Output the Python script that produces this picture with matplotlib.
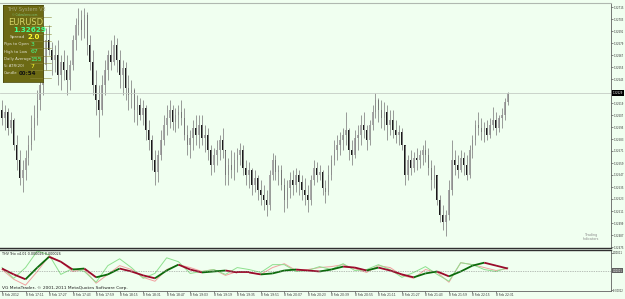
import numpy as np
import matplotlib
matplotlib.use("Agg")
import matplotlib.pyplot as plt
import matplotlib.transforms as mtransforms
from matplotlib.collections import LineCollection

# EURUSD bars (one bar per 2 minutes), prices in points above 1.32000
first_open = 612
bar_high = [
    622, 617, 614, 610, 604, 587, 572, 562, 572, 587,
    607, 617, 632, 647, 667, 694, 697, 680, 677, 682,
    667, 672, 667, 662, 687, 704, 714, 712, 714, 710,
    687, 672, 652, 637, 647, 662, 672, 682, 687, 684,
    672, 662, 660, 647, 642, 634, 627, 624, 622, 617,
    602, 587, 572, 572, 592, 607, 617, 622, 617, 614,
    617, 622, 614, 597, 592, 602, 607, 607, 607, 597,
    594, 577, 574, 582, 587, 594, 572, 564, 572, 570,
    574, 579, 577, 562, 560, 554, 552, 547, 542, 537,
    532, 552, 569, 567, 557, 557, 544, 542, 550, 552,
    554, 552, 547, 544, 537, 547, 562, 560, 557, 552,
    542, 557, 567, 582, 587, 590, 594, 610, 594, 582,
    592, 597, 607, 610, 597, 602, 617, 629, 624, 622,
    620, 617, 612, 612, 602, 597, 594, 577, 567, 572,
    570, 574, 572, 577, 582, 574, 562, 557, 547, 527,
    517, 512, 542, 582, 572, 567, 572, 570, 567, 577,
    587, 602, 610, 604, 600, 602, 604, 615, 610, 607,
    614, 624, 630,
]
bar_low = [
    597, 592, 587, 589, 572, 552, 537, 530, 542, 557,
    572, 582, 597, 612, 627, 652, 667, 647, 650, 637,
    632, 642, 627, 632, 652, 672, 687, 682, 684, 667,
    652, 627, 607, 585, 607, 627, 642, 652, 657, 650,
    634, 627, 622, 612, 614, 600, 597, 602, 597, 582,
    572, 552, 537, 540, 562, 577, 587, 594, 592, 590,
    594, 597, 582, 567, 564, 572, 577, 574, 577, 570,
    562, 547, 550, 557, 562, 564, 537, 537, 544, 542,
    550, 557, 547, 537, 534, 527, 530, 522, 517, 512,
    506, 512, 542, 542, 537, 532, 510, 514, 524, 527,
    530, 527, 522, 517, 510, 517, 537, 540, 542, 527,
    519, 527, 542, 557, 562, 567, 572, 577, 562, 557,
    564, 572, 577, 584, 572, 577, 592, 604, 600, 594,
    592, 582, 587, 584, 579, 577, 572, 537, 542, 547,
    550, 552, 554, 557, 560, 547, 532, 534, 517, 500,
    492, 486, 502, 527, 547, 544, 550, 547, 542, 544,
    564, 577, 587, 582, 580, 582, 584, 592, 587, 590,
    594, 602, 617,
]
bar_close = [
    604, 610, 594, 602, 577, 562, 544, 552, 564, 577,
    594, 604, 622, 637, 657, 682, 672, 662, 667, 647,
    660, 652, 642, 657, 682, 697, 702, 692, 707, 677,
    660, 637, 622, 612, 637, 652, 667, 660, 677, 662,
    647, 654, 634, 627, 632, 612, 617, 607, 614, 592,
    582, 562, 550, 567, 582, 597, 604, 612, 600, 607,
    610, 604, 587, 577, 584, 594, 587, 597, 584, 587,
    572, 557, 567, 572, 582, 572, 547, 557, 552, 562,
    567, 572, 554, 547, 552, 537, 544, 532, 527, 522,
    517, 547, 562, 550, 552, 537, 522, 534, 542, 537,
    547, 540, 532, 527, 522, 542, 554, 547, 550, 534,
    530, 547, 562, 572, 577, 582, 587, 592, 572, 567,
    584, 587, 597, 592, 582, 597, 610, 622, 612, 604,
    610, 597, 602, 592, 587, 590, 577, 547, 562, 554,
    564, 562, 567, 572, 567, 554, 542, 547, 522, 507,
    500, 507, 532, 562, 557, 552, 564, 557, 547, 572,
    582, 597, 594, 590, 594, 587, 597, 602, 594, 604,
    607, 620, 629,
]
bid_price = 1.32629

# THV Trix v4.01, one reading every 4 bars, in millionths
trix_step = 4
trix_main = [12, -24, -54, 18, 84, 54, 6, 12, -42, -24,
             12, -6, -30, -48, 0, 36, 6, -12, -6, 0,
             -12, -12, -24, -18, 0, 6, 0, -6, 6, 24,
             18, 0, 18, 0, -24, -42, -18, -6, -36, -6,
             30, 48, 30, 12]
trix_fast = [18, -48, 18, 120, 96, -24, 12, -6, -72, 30,
             72, 18, -48, -18, 78, 54, -18, -6, 6, -24,
             18, 6, -12, 36, 36, -6, 0, 24, 6, 42,
             0, 6, 36, 6, -42, -12, 24, -24, -66, 48,
             36, 6, -6, 18]
trix_signal = [6, -54, -90, -6, 90, 54, -6, 6, -78, -24,
               30, 6, -42, -66, 6, 36, 18, -6, 6, -30,
               -6, -12, -24, 18, 42, 0, 6, 18, 24, 36,
               12, -12, 30, 18, -30, -48, 6, -12, -72, 48,
               36, 18, 0, 12]

# time axis, one label every 8 bars
label_step = 8
time_labels = [
    "8 Feb 2012", "8 Feb 17:11", "8 Feb 17:27", "8 Feb 17:43", "8 Feb 17:59",
    "8 Feb 18:15", "8 Feb 18:31", "8 Feb 18:47", "8 Feb 19:03", "8 Feb 19:19",
    "8 Feb 19:35", "8 Feb 19:51", "8 Feb 20:07", "8 Feb 20:23", "8 Feb 20:39",
    "8 Feb 20:55", "8 Feb 21:11", "8 Feb 21:27", "8 Feb 21:43", "8 Feb 21:59",
    "8 Feb 22:15", "8 Feb 22:31",
]

# info box
panel_symbol = "EURUSD"
panel_spread = "2.0"
panel_rows = ["Pips to Open", "High to Low", "Daily Average", "5i ATR(20)"]
panel_values = ["3", "67", "155", "7"]
panel_candle = "00:54"

BG = "#f0fff0"
W, H = 625, 299

fig = plt.figure(figsize=(W / 100, H / 100), dpi=100)
fig.patch.set_facecolor(BG)
ax = fig.add_axes([0, 51 / H, 611 / W, 245 / H])
ax_ind = fig.add_axes([0, 8 / H, 611 / W, 41 / H])
for a in (ax, ax_ind):
    a.set_facecolor(BG)
    a.set_xlim(-0.68, 207.1)
    a.spines["left"].set_visible(False)
    a.spines["right"].set_color("#606060")
    a.spines["right"].set_linewidth(0.6)

# candles
highs = 1.32 + np.array(bar_high) / 1e5
lows = 1.32 + np.array(bar_low) / 1e5
closes = 1.32 + np.array(bar_close) / 1e5
opens = np.concatenate([[1.32 + first_open / 1e5], closes[:-1]])
highs = np.maximum(highs, np.maximum(opens, closes))
lows = np.minimum(lows, np.minimum(opens, closes))
x = np.arange(len(closes))
up = closes >= opens
body = np.maximum(np.abs(closes - opens), 0.000015)
ax.vlines(x, lows, highs, color="#8a8a8a", lw=0.6)
ax.bar(x[up], body[up], bottom=opens[up], width=0.5, color="#a8a8a8", lw=0)
ax.bar(x[~up], body[~up], bottom=closes[~up], width=0.5, color="#1a1a1a", lw=0)

ax.set_ylim(1.32474, 1.32719)
ax.axhline(bid_price, color="#c4ccc4", lw=0.6)
pticks = [1.32 + p / 1e5 for p in range(715, 470, -12) if abs(p - 629) > 6]
ax.yaxis.tick_right()
ax.set_yticks(pticks)
ax.set_yticklabels(["%.5f" % p for p in pticks])
ax.tick_params(axis="y", length=1.2, width=0.4, pad=0.4, labelsize=1.8, colors="#303030")
ax.set_xticks([])
ax.spines["top"].set_color("#b0b8b0")
ax.spines["bottom"].set_color("#303030")
ax.spines["bottom"].set_linewidth(1.0)
trans = mtransforms.blended_transform_factory(ax.transAxes, ax.transData)
ax.text(1.003, bid_price, "%.5f" % bid_price, transform=trans, fontsize=1.8,
        color="white", va="center", ha="left",
        bbox=dict(boxstyle="square,pad=0.3", fc="black", ec="none"))
fig.text(591 / W, 1 - 237 / H, "Trading\nIndicators", fontsize=2.4, color="#8a8a8a",
         ha="center", va="center", linespacing=0.9)

# indicator
tx = np.arange(len(trix_main)) * trix_step
ax_ind.plot(tx, trix_signal, color="#f0a0a0", lw=0.7)
ax_ind.plot(tx, trix_fast, color="#8ee08e", lw=0.7)
pts = np.column_stack([tx, trix_main])
segs = np.stack([pts[:-1], pts[1:]], axis=1)
cols = ["#0b6b0b" if b > a else "#9a0a2a" for a, b in zip(trix_main[:-1], trix_main[1:])]
ax_ind.add_collection(LineCollection(segs, colors=cols, linewidths=1.3))
ax_ind.axhline(0, color="#808080", lw=0.5, ls=(0, (1, 1.5)))
ax_ind.set_ylim(-126, 126)
ax_ind.yaxis.tick_right()
ax_ind.set_yticks([110, -120])
ax_ind.set_yticklabels(["0.00011", "-0.00012"])
ax_ind.tick_params(axis="y", length=1.2, width=0.4, pad=0.4, labelsize=1.8, colors="#303030")
ax_ind.set_xticks(np.arange(len(time_labels)) * label_step)
ax_ind.set_xticklabels(time_labels, ha="left")
ax_ind.tick_params(axis="x", length=1.2, width=0.4, pad=0.6, labelsize=2.2, colors="#303030")
ax_ind.spines["top"].set_color("#303030")
ax_ind.spines["top"].set_linewidth(1.0)
ax_ind.spines["bottom"].set_color("#606060")
ax_ind.spines["bottom"].set_linewidth(0.6)
trans_i = mtransforms.blended_transform_factory(ax_ind.transAxes, ax_ind.transData)
ax_ind.text(1.003, 0, "0.00001", transform=trans_i, fontsize=1.8, color="white",
            va="center", ha="left",
            bbox=dict(boxstyle="square,pad=0.3", fc="#606060", ec="none"))
ax_ind.text(2 / 611, 0.9, "THV Trix v4.01 0.000026 0.000026", transform=ax_ind.transAxes,
            fontsize=2.4, color="#202020", va="center")
fig.text(2 / W, 1 - 288 / H, "VG MetaTrader, \u00a9 2001-2011 MetaQuotes Software Corp.",
         fontsize=3.2, color="#202020", va="center")

# info box, drawn in pixel coords of the box
ax_p = fig.add_axes([3 / W, 1 - 82 / H, 40 / W, 77 / H])
ax_p.set_facecolor("#6c6a14")
ax_p.set_xlim(3, 43)
ax_p.set_ylim(82, 5)
ax_p.set_xticks([])
ax_p.set_yticks([])
for s in ax_p.spines.values():
    s.set_color("#4e4c0c")
    s.set_linewidth(0.6)
for yy in [17, 26, 34, 41, 48, 56, 63, 70, 78]:
    ax_p.plot([30, 51], [yy, yy], color="#8c8a3a", lw=0.4, clip_on=False)
ax_p.text(7, 9.5, "THV System V3", fontsize=3.6, color="#a8a880", va="center", clip_on=False)
ax_p.text(12, 15, "\u00a9 Cobraforex.com", fontsize=2.0, color="#7cc87c", va="center")
ax_p.text(8, 22.5, panel_symbol, fontsize=6, color="#d4d468", va="center")
ax_p.text(13, 30, "%.5f" % bid_price, fontsize=5.2, color="#44ff8c", va="center",
          fontweight="bold")
ax_p.text(10, 37, "Spread", fontsize=3.2, color="#e0e0d0", va="center")
ax_p.text(27, 37, panel_spread, fontsize=5, color="#ffff30", va="center", fontweight="bold")
for i, (name, val) in enumerate(zip(panel_rows, panel_values)):
    yy = 44.5 + 7.3 * i
    ax_p.text(4, yy, name, fontsize=2.8, color="#e0e0d0", va="center")
    c = "#ffff30" if i == 3 else "#44ff8c"
    ax_p.text(30.5, yy, val, fontsize=4.4, color=c, va="center", clip_on=False)
ax_p.text(4, 73.5, "Candle", fontsize=2.8, color="#e0e0d0", va="center")
ax_p.text(19, 73.5, panel_candle, fontsize=4.0, color="#101010", va="center",
          fontweight="bold")

fig.savefig("out.png", dpi=100, facecolor=BG)
